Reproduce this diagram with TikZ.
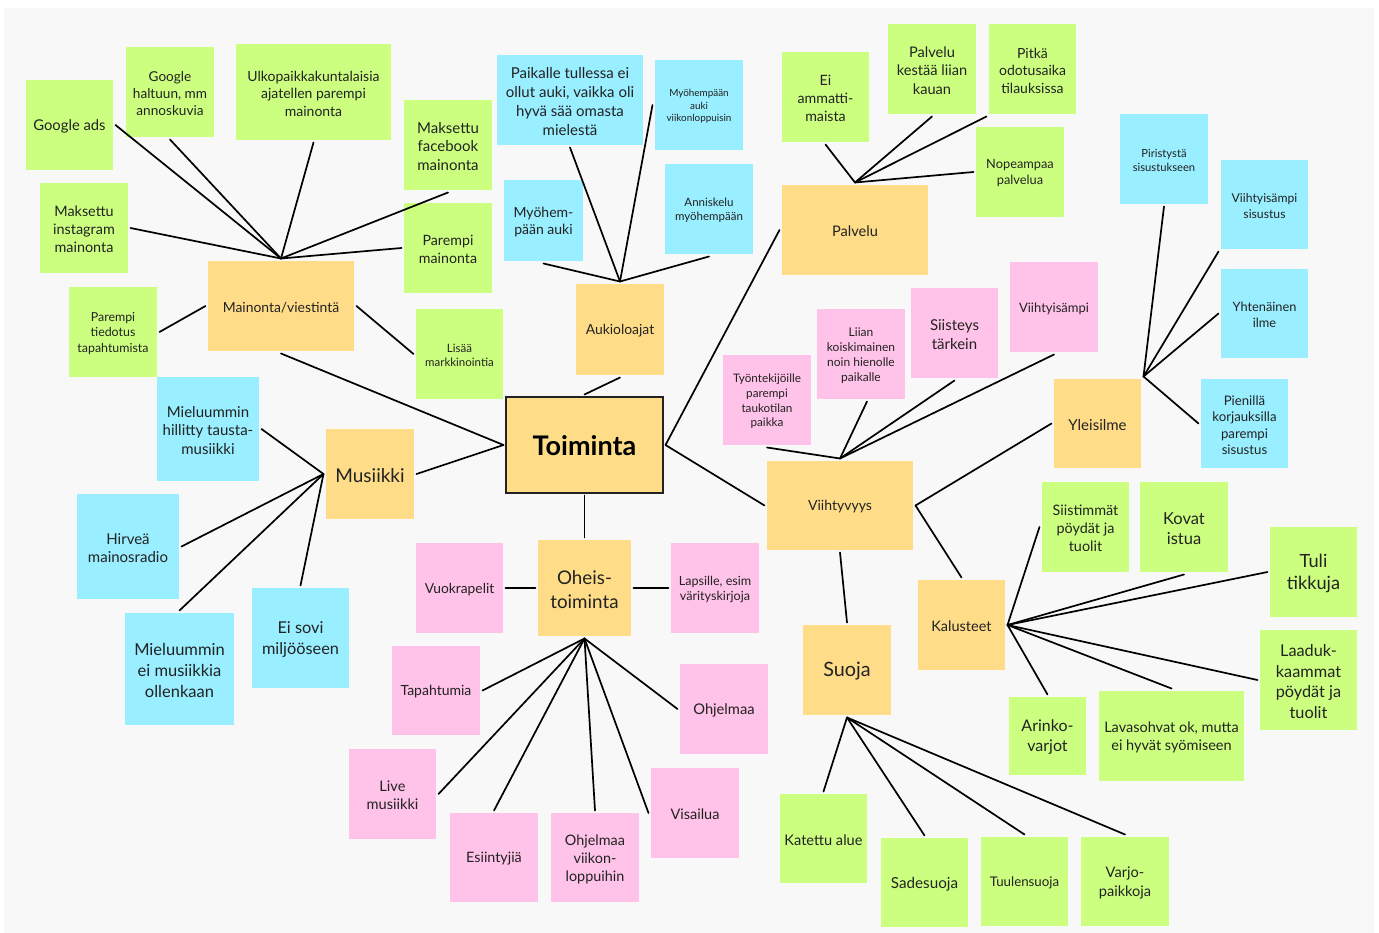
\documentclass[tikz,border=0pt]{standalone}
\usepackage{fontspec}
\setmainfont{Lato}
\definecolor{bggray}{RGB}{248,248,248}
\definecolor{stgreen}{RGB}{204,255,128}
\definecolor{stblue}{RGB}{153,238,255}
\definecolor{stpink}{RGB}{255,194,232}
\definecolor{storange}{RGB}{255,221,136}
\definecolor{txt}{RGB}{34,34,34}
\tikzset{
  note/.style={rectangle, inner sep=0pt, outer sep=2.5pt},
  notetext/.style={inner sep=0pt, align=center, text=txt},
  gr/.style={fill=stgreen},
  bl/.style={fill=stblue},
  pk/.style={fill=stpink},
  or/.style={fill=storange},
  conn/.style={draw=black, line width=1.7pt, line cap=round},
  toimbox/.style={rectangle, fill=storange, draw=txt, line width=2.2pt, outer sep=2.5pt,
     minimum width=157pt, minimum height=96pt},
  toimtext/.style={font=\fontsize{27}{32}\selectfont\bfseries, text=black, inner sep=0pt}
}
\newcommand{\sticky}[8]{%
  \node[note,#6,minimum width={(#4-#2)*1pt}, minimum height={(#5-#3)*1pt}]
        (#1) at ({(#2+#4)/2},{(#3+#5)/2}) {};
  \node[notetext,font=\fontsize{#7}{\fpeval{1.25*#7}}\selectfont]
        at ([yshift=-1.5pt]#1.center) {#8};}
\begin{document}
\begin{tikzpicture}[x=1pt,y=-1pt]
\useasboundingbox (0,0) rectangle (1379,933);
\fill[bggray] (4,8) rectangle (1374,933);
% Mainonta
\sticky{gads}{26}{80}{113}{170}{gr}{14.8}{Google ads}
\sticky{ghal}{126}{47}{214}{137}{gr}{13.6}{Google\\haltuun, mm\\annoskuvia}
\sticky{ulko}{236}{44}{391}{140}{gr}{14}{Ulkopaikkakuntalaisia\\ajatellen parempi\\mainonta}
\sticky{insta}{40}{183}{128}{273}{gr}{14.4}{Maksettu\\instagram\\mainonta}
\sticky{fb}{404}{100}{492}{190}{gr}{15}{Maksettu\\facebook\\mainonta}
\sticky{parmai}{404}{203}{492}{293}{gr}{14.2}{Parempi\\mainonta}
\sticky{main}{208}{261}{354}{351}{or}{13.9}{Mainonta/viestintä}
\sticky{tied}{69}{287}{157}{377}{gr}{12.4}{Parempi\\tiedotus\\tapahtumista}
\sticky{lisaa}{416}{309}{503}{399}{gr}{11.5}{Lisää\\markkinointia}
% Musiikki
\sticky{hill}{157}{377}{259}{481}{bl}{15}{Mieluummin\\hillitty tausta-\\musiikki}
\sticky{mus}{326}{429}{414}{519}{or}{19}{Musiikki}
\sticky{hirv}{77}{494}{179}{599}{bl}{15}{Hirveä\\mainosradio}
\sticky{eimus}{125}{613}{234}{725}{bl}{16.5}{Mieluummin\\ei musiikkia\\ollenkaan}
\sticky{eisovi}{252}{588}{349}{688}{bl}{16.3}{Ei sovi\\miljööseen}
% Toiminta
\node[toimbox] (toim) at (584.5,445) {};
\node[toimtext] at ([yshift=-1pt]toim.center) {Toiminta};
% Aukioloajat
\sticky{auk}{576}{284}{664}{375}{or}{13.9}{Aukioloajat}
\sticky{paik}{497}{55}{643}{145}{bl}{15}{Paikalle tullessa ei\\ollut auki, vaikka oli\\hyvä sää omasta\\mielestä}
\sticky{myvk}{655}{60}{743}{150}{bl}{9.9}{Myöhempään\\auki\\viikonloppuisin}
\sticky{myoh}{504}{180}{583}{261}{bl}{14}{Myöhem-\\pään auki}
\sticky{anni}{665}{164}{753}{254}{bl}{11.5}{Anniskelu\\myöhempään}
% Palvelu
\sticky{palv}{782}{185}{928}{275}{or}{14.6}{Palvelu}
\sticky{eiam}{782}{52}{869}{142}{gr}{14.2}{Ei\\ammatti-\\maista}
\sticky{kest}{888}{24}{976}{114}{gr}{14.6}{Palvelu\\kestää liian\\kauan}
\sticky{pitka}{989}{24}{1076}{114}{gr}{14}{Pitkä\\odotusaika\\tilauksissa}
\sticky{nope}{976}{127}{1064}{217}{gr}{12.8}{Nopeampaa\\palvelua}
% Viihtyvyys
\sticky{viih}{767}{461}{913}{550}{or}{14}{Viihtyvyys}
\sticky{tyon}{723}{355}{811}{445}{pk}{11.7}{Työntekijöille\\parempi\\taukotilan\\paikka}
\sticky{liian}{817}{309}{905}{399}{pk}{12}{Liian\\koiskimainen\\noin hienolle\\paikalle}
\sticky{siist}{911}{288}{998}{378}{pk}{15}{Siisteys\\tärkein}
\sticky{viihp}{1010}{262}{1098}{352}{pk}{13}{Viihtyisämpi}
\sticky{yle}{1054}{379}{1141}{468}{or}{15}{Yleisilme}
\sticky{piri}{1120}{114}{1208}{204}{bl}{11.2}{Piristystä\\sisustukseen}
\sticky{viis}{1221}{160}{1308}{249}{bl}{12.2}{Viihtyisämpi\\sisustus}
\sticky{yhte}{1221}{269}{1308}{358}{bl}{12.8}{Yhtenäinen\\ilme}
\sticky{pien}{1201}{379}{1288}{468}{bl}{13.2}{Pienillä\\korjauksilla\\parempi\\sisustus}
\sticky{kal}{918}{580}{1005}{670}{or}{14.5}{Kalusteet}
\sticky{siis}{1042}{482}{1129}{572}{gr}{14.4}{Siistimmät\\pöydät ja\\tuolit}
\sticky{kova}{1140}{482}{1228}{572}{gr}{16.5}{Kovat\\istua}
\sticky{tuli}{1270}{527}{1357}{617}{gr}{18.2}{Tuli\\tikkuja}
\sticky{laad}{1260}{630}{1357}{730}{gr}{16.3}{Laaduk-\\kaammat\\pöydät ja\\tuolit}
\sticky{arin}{1009}{697}{1086}{775}{gr}{16}{Arinko-\\varjot}
\sticky{lava}{1099}{691}{1244}{781}{gr}{14.5}{Lavasohvat ok, mutta\\ei hyvät syömiseen}
\sticky{suoja}{803}{625}{891}{715}{or}{19.8}{Suoja}
\sticky{kate}{780}{794}{867}{883}{gr}{14.6}{Katettu alue}
\sticky{sade}{881}{838}{968}{927}{gr}{15.2}{Sadesuoja}
\sticky{tuul}{981}{837}{1068}{926}{gr}{13.3}{Tuulensuoja}
\sticky{varj}{1081}{837}{1169}{926}{gr}{14.6}{Varjo-\\paikkoja}
% Oheistoiminta
\sticky{ohe}{538}{540}{631}{636}{or}{18.8}{Oheis-\\toiminta}
\sticky{vuok}{416}{543}{503}{633}{pk}{13.8}{Vuokrapelit}
\sticky{laps}{671}{543}{759}{633}{pk}{12.6}{Lapsille, esim\\värityskirjoja}
\sticky{tapa}{392}{646}{480}{735}{pk}{14}{Tapahtumia}
\sticky{live}{349}{749}{436}{839}{pk}{14.6}{Live\\musiikki}
\sticky{esii}{450}{813}{538}{902}{pk}{14.3}{Esiintyjiä}
\sticky{ohvk}{551}{813}{639}{902}{pk}{14.4}{Ohjelmaa\\viikon-\\loppuihin}
\sticky{visa}{651}{768}{739}{858}{pk}{14.5}{Visailua}
\sticky{ohje}{680}{664}{768}{754}{pk}{14.7}{Ohjelmaa}
% Connectors
\draw[conn] (main.north) -- (gads.east);
\draw[conn] (main.north) -- (ghal.south);
\draw[conn] (main.north) -- (ulko.south);
\draw[conn] (main.north) -- (insta.east);
\draw[conn] (main.north) -- (fb.south);
\draw[conn] (main.north) -- (parmai.west);
\draw[conn] (main.west) -- (tied.east);
\draw[conn] (main.east) -- (lisaa.west);
\draw[conn] (main.south) -- (toim.west);
\draw[conn] (mus.east) -- (toim.west);
\draw[conn] (mus.west) -- (hill.east);
\draw[conn] (mus.west) -- (hirv.east);
\draw[conn] (mus.west) -- (eimus.north);
\draw[conn] (mus.west) -- (eisovi.north);
\draw[conn] (auk.north) -- (paik.south);
\draw[conn] (auk.north) -- (myvk.west);
\draw[conn] (auk.north) -- (myoh.south);
\draw[conn] (auk.north) -- (anni.south);
\draw[conn] (auk.south) -- (toim.north);
\draw[conn] (toim.east) -- (palv.west);
\draw[conn] (palv.north) -- (eiam.south);
\draw[conn] (palv.north) -- (kest.south);
\draw[conn] (palv.north) -- (pitka.south west);
\draw[conn] (palv.north) -- (nope.west);
\draw[conn] (toim.east) -- (viih.west);
\draw[conn] (viih.north) -- (tyon.south);
\draw[conn] (viih.north) -- ([xshift=6pt]liian.south);
\draw[conn] (viih.north) -- (siist.south);
\draw[conn] (viih.north) -- (viihp.south);
\draw[conn] (viih.east) -- (yle.west);
\draw[conn] (viih.east) -- (kal.north);
\draw[conn] (viih.south) -- (suoja.north);
\draw[conn] (yle.north east) -- (piri.south);
\draw[conn] (yle.north east) -- (viis.south west);
\draw[conn] (yle.north east) -- (yhte.west);
\draw[conn] (yle.north east) -- (pien.west);
\draw[conn] (kal.east) -- (siis.west);
\draw[conn] (kal.east) -- (kova.south);
\draw[conn] (kal.east) -- (tuli.west);
\draw[conn] (kal.east) -- (laad.west);
\draw[conn] (kal.east) -- (arin.north);
\draw[conn] (kal.east) -- (lava.north);
\draw[conn] (suoja.south) -- (kate.north);
\draw[conn] (suoja.south) -- (sade.north);
\draw[conn] (suoja.south) -- (tuul.north);
\draw[conn] (suoja.south) -- (varj.north);
\draw[conn] (toim.south) -- (ohe.north);
\draw[conn] (ohe.west) -- (vuok.east);
\draw[conn] (ohe.east) -- (laps.west);
\draw[conn] (ohe.south) -- (tapa.east);
\draw[conn] (ohe.south) -- (live.east);
\draw[conn] (ohe.south) -- (esii.north);
\draw[conn] (ohe.south) -- (ohvk.north);
\draw[conn] (ohe.south) -- (visa.west);
\draw[conn] (ohe.south) -- (ohje.west);
\end{tikzpicture}
\end{document}
